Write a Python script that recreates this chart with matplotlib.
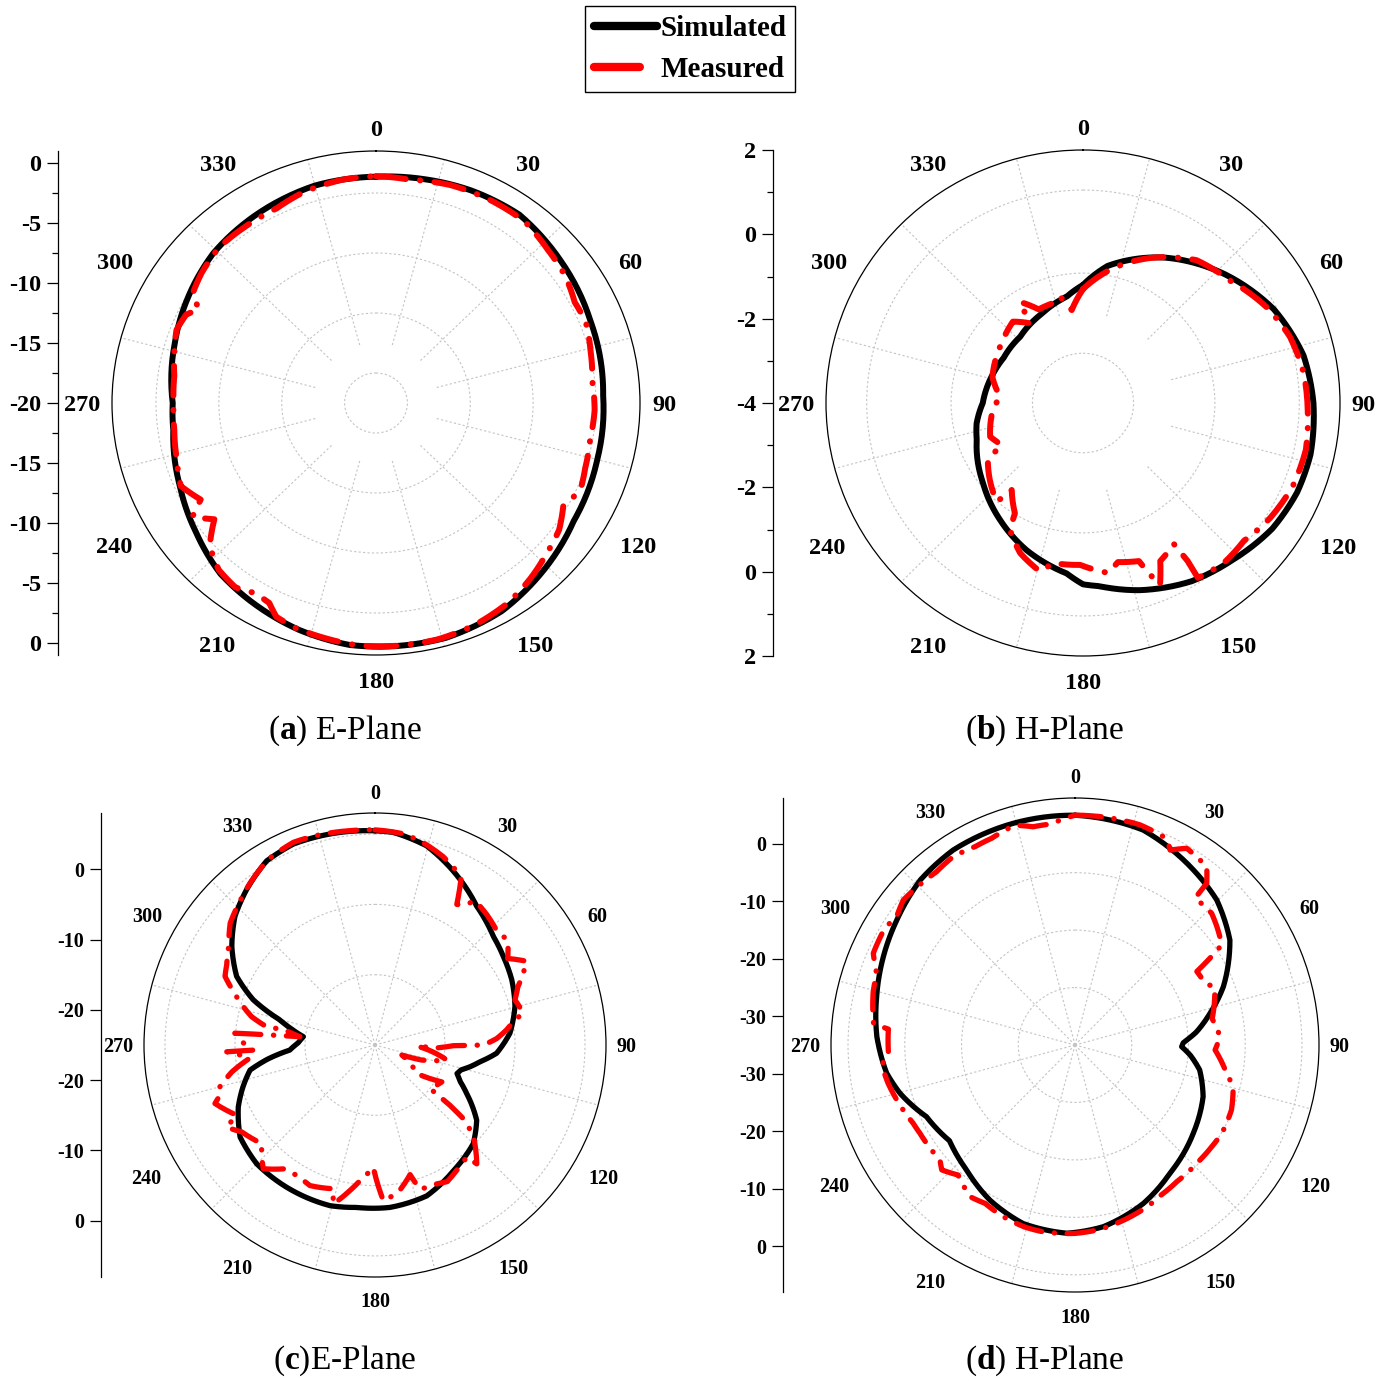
import numpy as np
import matplotlib
matplotlib.use('Agg')
import matplotlib.pyplot as plt
import matplotlib.transforms as mtransforms
from matplotlib.lines import Line2D

plt.rcParams['font.family'] = ['Liberation Serif', 'DejaVu Serif']
plt.rcParams['mathtext.fontset'] = 'custom'
plt.rcParams['mathtext.rm'] = 'Liberation Serif'
plt.rcParams['mathtext.bf'] = 'Liberation Serif:bold'

# ---------------- data (theta in degrees, gain in dB) ----------------
a_sim_theta = [0, 12, 23, 36, 51, 68, 88, 105, 122, 138, 150, 164, 179, 186, 198, 210, 221, 233, 246, 262, 270, 287, 300, 314, 328, 345, 360]
a_sim_r = [-1.14, -0.95, -0.74, -0.60, -1.12, -1.62, -1.92, -1.78, -1.45, -0.62, 0.02, 0.34, 0.31, 0.27, -0.13, -0.66, -1.14, -2.08, -2.93, -3.72, -3.83, -3.25, -2.67, -2.02, -1.66, -1.24, -1.14]
a_meas_theta = [0, 8, 18, 28, 38, 47, 55, 62, 68, 76, 84, 92, 100, 108, 114, 120, 126, 133, 140, 148, 157, 166, 175, 184, 192, 199, 204, 207, 211, 216, 222, 228, 233, 237, 240, 246, 254, 262, 270, 278, 285, 291, 296, 299, 302, 308, 316, 324, 334, 342, 352, 360]
a_meas_r = [-1.1, -1.2, -0.9, -0.8, -0.8, -1.3, -1.6, -2.1, -2.0, -2.4, -2.7, -2.6, -2.7, -2.5, -2.2, -2.8, -2.0, -1.5, -0.9, -0.3, 0.1, 0.3, 0.3, 0.25, 0.0, -0.2, -0.5, -1.3, -1.5, -1.0, -1.3, -2.2, -3.9, -2.6, -3.9, -3.0, -3.5, -3.8, -3.9, -3.8, -3.4, -3.0, -3.2, -3.9, -2.8, -2.4, -2.0, -2.0, -1.96, -1.5, -1.2, -1.1]

b_sim_theta = [0, 10, 28.6, 47.5, 63.5, 77.6, 90, 103, 113, 124, 137, 149, 163.5, 175, 180, 185.4, 200.7, 215, 230.8, 250.6, 259, 270, 288.5, 300, 317, 335, 351.4, 360]
b_sim_r = [-1.20, -0.70, -0.07, 0.51, 0.98, 1.27, 1.38, 1.45, 1.43, 1.33, 1.10, 0.93, 0.63, 0.36, 0.30, 0.06, -0.27, -0.62, -0.99, -1.37, -1.47, -1.66, -1.79, -1.86, -1.85, -1.68, -1.45, -1.20]
b_meas_theta = [0, 13.7, 25, 38, 50, 62, 72, 82, 92, 102, 112, 122, 131, 139, 147.1, 146.9, 147.6, 154.3, 157.4, 160.8, 167.8, 171.8, 181, 190.5, 194.1, 202.4, 209.5, 211.3, 218.9, 220.7, 230, 238.7, 242.3, 249.8, 265.6, 274.4, 286, 296, 306.7, 319.7, 326.8, 328.5, 335, 343.5, 347.8, 353.2, 360]
b_meas_r = [-1.3, -0.67, -0.2, 0.3, 0.5, 0.85, 1.08, 1.2, 1.25, 1.32, 1.28, 1.15, 0.98, 1.02, 0.94, 0.47, -0.04, 0.16, 0.68, -0.03, -0.14, 0.07, -0.16, -0.14, 0.12, -0.15, -0.54, -0.94, -1.35, -0.91, -1.16, -1.40, -1.86, -1.69, -1.89, -2.06, -1.80, -1.72, -1.63, -1.47, -1.74, -1.19, -1.55, -1.53, -1.41, -1.78, -1.3]

c_sim_theta = [0, 4.9, 14.6, 27.3, 36.3, 47.5, 55.5, 64.6, 74.7, 85, 93.9, 99, 102.9, 106, 109.1, 113, 117.8, 126.4, 135, 147.9, 161, 174.7, 186.5, 195.7, 212, 225, 235.8, 245.7, 252, 258.7, 262.5, 266.6, 271.5, 276.6, 280.5, 284.7, 290.3, 296.3, 304.5, 312.5, 320.4, 329.4, 337.8, 350.6, 360]
c_sim_r = [5.47, 5.36, 4.27, 1.5, -0.48, -2.09, -2.76, -3.37, -4.27, -5.65, -7.6, -9.8, -11.1, -12.2, -12.6, -11.8, -10.2, -6.95, -5.15, -3.9, -2.3, -1.8, -1.75, -1.26, -1.15, -1.10, -1.70, -3.57, -5.1, -6.8, -9.5, -12.8, -14.0, -14.7, -13.0, -10.97, -6.45, -2.95, -0.18, 2.13, 3.74, 5.42, 5.87, 5.65, 5.47]
c_meas_theta = [0, 8, 14, 20, 25, 27.5, 30.3, 32.5, 35, 40.7, 47, 52, 57, 61.2, 64, 68, 72.2, 77.9, 80, 83.5, 87, 90, 90.5, 93, 91.5, 101.8, 107.8, 110.5, 124.2, 118.8, 128.2, 128.7, 129.7, 132.5, 139.3, 140.6, 146.8, 152, 155.9, 162.6, 164.8, 171, 176.9, 179.3, 180.8, 186.3, 189.8, 194.8, 196.2, 204.9, 210.5, 216.6, 222.2, 225.8, 229, 237, 241.1, 243.2, 250, 252.1, 255, 259.4, 264, 265.8, 267.4, 267.6, 270, 274.8, 275.4, 276.3, 279.5, 279.5, 282.9, 290.6, 294.5, 298.3, 304, 310, 316, 322, 330, 338, 346, 353, 360]
c_meas_r = [5.6, 5.3, 4.5, 3.5, 2.4, 1.6, -1.84, -1.4, 0.0, -0.52, -1.2, -0.9, -2.4, -0.28, -1.4, -3.0, -4.0, -3.35, -4.8, -6.1, -7.6, -9.5, -13.8, -16.5, -19.0, -14.5, -18.0, -20.9, -17.8, -14.1, -15.0, -11.3, -8.6, -5.96, -2.7, -4.36, -3.7, -3.0, -3.36, -3.5, -5.9, -3.8, -2.8, -5.7, -7.6, -5.6, -4.0, -1.6, -3.7, -2.95, -3.4, -3.05, -1.24, -2.4, -3.6, -2.3, -0.8, -2.86, -0.67, -1.74, -2.07, -4.2, -7.0, -5.7, -3.8, -7.6, -6.5, -4.9, -9.9, -14.2, -11.9, -9.3, -6.9, -3.4, -1.45, -0.94, 0.2, 2.0, 3.0, 4.1, 5.5, 6.1, 5.9, 5.7, 5.6]

d_sim_theta = [0, 17.8, 34.4, 44.7, 56.2, 68.8, 77, 84, 88.7, 90.9, 95, 101.2, 111.7, 126.4, 143.2, 156.4, 171, 182.5, 196.4, 209, 221.3, 233, 244.5, 254.7, 261.6, 264.6, 272.4, 283.5, 294.4, 304.7, 316.5, 327.7, 344.3, 360]
d_sim_r = [5.0, 4.3, 1.94, 0.52, -2.15, -6.96, -10.6, -13.5, -15.9, -16.2, -14.6, -12.6, -10.7, -9.1, -7.1, -4.9, -2.98, -2.2, -2.6, -4.1, -6.05, -7.3, -6.0, -3.05, -1.45, -1.05, -0.05, 0.95, 2.1, 3.2, 4.6, 5.16, 5.1, 5.0]
d_meas_theta = [0, 8, 16.6, 24.2, 26.3, 29.9, 36.8, 39.5, 39.6, 46.4, 50.5, 56, 59.2, 64.9, 67.8, 79.3, 86.7, 92, 100.6, 104.6, 112.3, 120.7, 126.3, 133.1, 143, 149.7, 155.8, 166.7, 172.4, 180, 190.2, 195.7, 202.9, 209.9, 215, 222.3, 227.2, 229.9, 240.6, 244.4, 258.5, 264.2, 267.3, 274.8, 276, 284.6, 289.6, 294.2, 301.2, 305.4, 309.8, 316.7, 321, 326.8, 333, 337.8, 344.5, 349, 353.6, 360]
d_meas_r = [5.0, 5.0, 5.0, 4.4, 2.85, 4.5, 3.76, 1.5, -1.8, -1.75, -2.6, -3.8, -10.0, -9.7, -8.4, -10.4, -9.4, -10.3, -7.8, -6.2, -5.2, -4.9, -5.1, -5.25, -5.2, -4.8, -4.1, -3.1, -2.6, -2.2, -2.0, -2.1, -2.55, -3.2, -2.76, -4.4, -3.0, -3.9, -3.65, -3.4, -1.4, -0.78, -2.1, -2.0, 0.7, 1.75, 2.1, 3.97, 4.2, 3.56, 4.4, 4.0, 3.8, 4.2, 3.76, 3.87, 4.7, 3.7, 3.7, 5.0]

angle_ticks = list(range(0, 360, 30))
a_axis_vals = [0, -5, -10, -15, -20]
b_axis_vals = [2, 0, -2, -4]
c_axis_vals = [0, -10, -20]
d_axis_vals = [0, -10, -20, -30]
captions = [r'($\mathbf{a}$) E-Plane', r'($\mathbf{b}$) H-Plane', r'($\mathbf{c}$)E-Plane', r'($\mathbf{d}$) H-Plane']
legend_labels = ['Simulated', 'Measured']

# ---------------- layout ----------------
W, H = 1389, 1379
fig = plt.figure(figsize=(W / 100, H / 100), dpi=100)


def box(x0, y0, x1, y1):
    return [x0 / W, 1 - y1 / H, (x1 - x0) / W, (y1 - y0) / H]


panels = [
    dict(sim=(a_sim_theta, a_sim_r), meas=(a_meas_theta, a_meas_r), rlim=(-20, 1.0),
         rgrid=[-17.5, -12.5, -7.5, -2.5], spoke0=-15, pbox=(112, 151, 640, 655), axx=58,
         vals=a_axis_vals, center_tick=True, fs=17.5, lw=4.3,
         cap=captions[0], capxy=(345, 731)),
    dict(sim=(b_sim_theta, b_sim_r), meas=(b_meas_theta, b_meas_r), rlim=(-4, 2.0),
         rgrid=[-2.82, -0.92, 1.05], spoke0=-1.87, pbox=(826, 150, 1340, 656), axx=773,
         vals=b_axis_vals, center_tick=True, fs=17.5, lw=4.3,
         cap=captions[1], capxy=(1045, 731)),
    dict(sim=(c_sim_theta, c_sim_r), meas=(c_meas_theta, c_meas_r), rlim=(-25, 8.0),
         rgrid=[-15, -5, 5], spoke0=-25, pbox=(144, 813, 606, 1277), axx=101,
         vals=c_axis_vals, center_tick=False, fs=14.5, lw=3.8,
         cap=captions[2], capxy=(345, 1361)),
    dict(sim=(d_sim_theta, d_sim_r), meas=(d_meas_theta, d_meas_r), rlim=(-35, 8.0),
         rgrid=[-25, -15, -5, 5], spoke0=-35, pbox=(831, 798, 1319, 1292), axx=783,
         vals=d_axis_vals, center_tick=False, fs=14.5, lw=3.8,
         cap=captions[3], capxy=(1045, 1361)),
]

grid_color = '#c4c4c4'
meas_style = (0, (5, 2.4, 0.05, 2.4))


def smooth_polar(line, steps=24):
    # let the polar transform draw each segment as a curve in (theta, r)
    line.get_path()
    line._path._interpolation_steps = steps


for p in panels:
    rmin, rmax = p['rlim']
    span = rmax - rmin
    ax = fig.add_axes(box(*p['pbox']), projection='polar')
    ax.set_aspect('auto')
    ax.set_theta_zero_location('N')
    ax.set_theta_direction(-1)
    ax.set_ylim(rmin, rmax)
    ax.set_rgrids(p['rgrid'], labels=[''] * len(p['rgrid']))
    ax.yaxis.grid(True, color=grid_color, ls=(0, (2, 2)), lw=0.8)
    ax.set_thetagrids(angle_ticks, labels=[''] * len(angle_ticks))
    ax.xaxis.grid(False)
    ax.tick_params(axis='x', direction='in', length=8, width=0.9, colors='black')
    ax.tick_params(axis='y', length=0)
    ax.spines['polar'].set_linewidth(0.9)
    spokes = np.deg2rad(np.arange(15, 360, 30))
    ax.vlines(spokes, p['spoke0'], rmax, colors=grid_color, linestyles=(0, (2, 2)), lw=0.8)

    # angle labels: the corner nearest the circle sits on the tick ray
    shift = ax.transData + mtransforms.ScaledTranslation(0, -2.5 / 100, fig.dpi_scale_trans)
    for t in angle_ticks:
        if t in (90, 270):
            ha, va, rho, tr = ('left' if t == 90 else 'right'), 'center', 1.045, shift
        else:
            ha = 'center' if t in (0, 180) else ('left' if t < 180 else 'right')
            va = 'top' if 90 < t < 270 else 'baseline'
            rho = 1.066 if va == 'top' else 1.061
            tr = ax.transData
        ax.text(np.deg2rad(t), rmin + rho * span, str(t), ha=ha, va=va, transform=tr,
                fontsize=p['fs'], fontweight='bold', clip_on=False)

    th, r = p['sim']
    ln, = ax.plot(np.deg2rad(th), r, color='black', lw=p['lw'], solid_capstyle='round',
                  solid_joinstyle='round', zorder=3)
    smooth_polar(ln)
    th, r = p['meas']
    ln, = ax.plot(np.deg2rad(th), r, color='#ff0000', lw=p['lw'], ls=meas_style,
                  dash_capstyle='round', dash_joinstyle='round', zorder=4)
    smooth_polar(ln, 8)

    # mirrored radial scale on the left
    x0, y0, x1, y1 = p['pbox']
    axl = fig.add_axes([p['axx'] / W, 1 - y1 / H, 0.0005, (y1 - y0) / H])
    axl.set_ylim(-span, span)
    axl.patch.set_visible(False)
    for s in ['top', 'right', 'bottom']:
        axl.spines[s].set_visible(False)
    axl.spines['left'].set_linewidth(0.9)
    axl.set_xticks([])
    pos, labs = [], []
    for v in p['vals']:
        d = v - rmin
        if d == 0:
            if p['center_tick']:
                pos.append(0.0); labs.append(str(v))
        else:
            pos += [d, -d]; labs += [str(v), str(v)]
    axl.set_yticks(pos)
    axl.set_yticklabels(labs, fontweight='bold', fontsize=p['fs'])
    step = (p['vals'][0] - p['vals'][1])
    mv = np.arange(step / 2, span, step)
    axl.set_yticks(np.concatenate([mv, -mv]), minor=True)
    axl.tick_params(axis='y', which='major', direction='out', length=8, width=0.9, pad=4)
    axl.tick_params(axis='y', which='minor', direction='out', length=4.5, width=0.9)

    fig.text(p['capxy'][0] / W, 1 - p['capxy'][1] / H, p['cap'], ha='center', va='center',
             fontsize=24)

handles = [Line2D([], [], color='black', lw=6, solid_capstyle='round'),
           Line2D([], [], color='#ff0000', lw=6, ls=(0, (5.5, 20)), dash_capstyle='round')]
leg = fig.legend(handles, legend_labels, loc='upper center', bbox_to_anchor=(690 / W, 1 - 6 / H),
                 prop=dict(family='Liberation Serif', weight='bold', size=21), frameon=True,
                 fancybox=False, edgecolor='black', framealpha=1, handlelength=2.15,
                 handletextpad=0.12, borderpad=0.3, labelspacing=0.5, borderaxespad=0)
leg.get_frame().set_linewidth(1.0)

fig.savefig('out.png', dpi=100)
